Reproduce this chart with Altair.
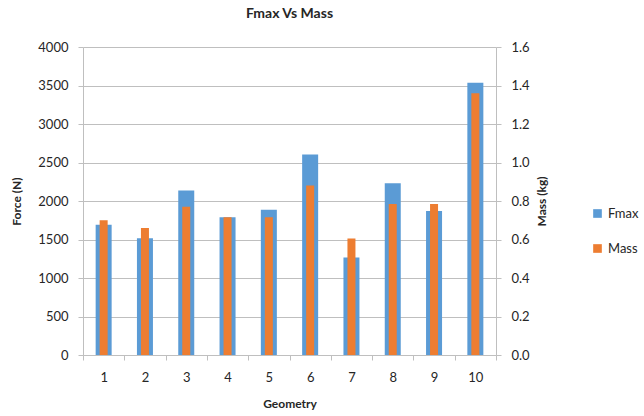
import altair as alt
import pandas as pd

# Geometry index, peak force (N) and mass (kg) per geometry
geometry = [1, 2, 3, 4, 5, 6, 7, 8, 9, 10]
fmax = [1690, 1515, 2135, 1790, 1885, 2605, 1265, 2230, 1870, 3535]
mass = [0.70, 0.66, 0.77, 0.715, 0.715, 0.88, 0.605, 0.785, 0.785, 1.36]

series = ["Fmax", "Mass"]
colors = ["#5B9BD5", "#ED7D31"]

df = pd.DataFrame({"Geometry": geometry, "Fmax": fmax, "Mass": mass})
df["s_f"] = series[0]
df["s_m"] = series[1]

FONT = "Lato"
GRID = "#BFBFBF"
TXT = "#262626"

x_enc = alt.X(
    "Geometry:O",
    scale=alt.Scale(paddingInner=0, paddingOuter=0),
    axis=alt.Axis(
        title="Geometry", labelAngle=0, tickBand="extent", tickSize=5,
        labelPadding=11, titlePadding=14, domainColor=GRID, tickColor=GRID,
        labelFontSize=13, titleFontSize=12, titleFontWeight="bold",
        labelColor=TXT, titleColor=TXT,
    ),
)

color_scale = alt.Scale(domain=series, range=colors)
legend = alt.Legend(
    title=None, orient="none", legendX=508, legendY=160, symbolType="square",
    symbolSize=75, symbolStrokeWidth=0, labelFontSize=13, labelColor=TXT,
    rowPadding=21, labelOffset=4, padding=0,
)

force = alt.Chart(df).mark_bar(size=16).encode(
    x=x_enc,
    y=alt.Y(
        "Fmax:Q",
        scale=alt.Scale(domain=[0, 4000], nice=False),
        axis=alt.Axis(
            title="Force (N)", values=list(range(0, 4001, 500)), format="d",
            grid=True, gridColor=GRID, domainColor=GRID, tickColor=GRID,
            tickSize=5, labelPadding=10, titlePadding=14, labelFontSize=13,
            titleFontSize=12, titleFontWeight="bold", labelColor=TXT,
            titleColor=TXT,
        ),
    ),
    color=alt.Color("s_f:N", scale=color_scale, legend=legend),
)

weight = alt.Chart(df).mark_bar(size=8).encode(
    x=x_enc,
    y=alt.Y(
        "Mass:Q",
        scale=alt.Scale(domain=[0, 1.6], nice=False),
        axis=alt.Axis(
            title="Mass (kg)", orient="right", format=".1f", titleAngle=270,
            values=[0, 0.2, 0.4, 0.6, 0.8, 1.0, 1.2, 1.4, 1.6], grid=False,
            domainColor=GRID, tickColor=GRID, tickSize=5, labelPadding=10,
            titlePadding=19, labelFontSize=13, titleFontSize=12,
            titleFontWeight="bold", labelColor=TXT, titleColor=TXT,
        ),
    ),
    color=alt.Color("s_m:N", scale=color_scale, legend=legend),
)

chart = (
    alt.layer(force, weight)
    .resolve_scale(y="independent")
    .properties(
        width=413,
        height=308,
        title=alt.TitleParams(
            "Fmax Vs Mass", fontSize=14, fontWeight="bold", color=TXT,
            anchor="middle", offset=20,
        ),
        autosize=alt.AutoSizeParams(type="none"),
        padding={"left": 83, "top": 47, "right": 148, "bottom": 61},
    )
    .configure(font=FONT, background="white")
    .configure_view(stroke=None)
)

chart.save("out.html", embed_options={"renderer": "svg", "actions": False})
